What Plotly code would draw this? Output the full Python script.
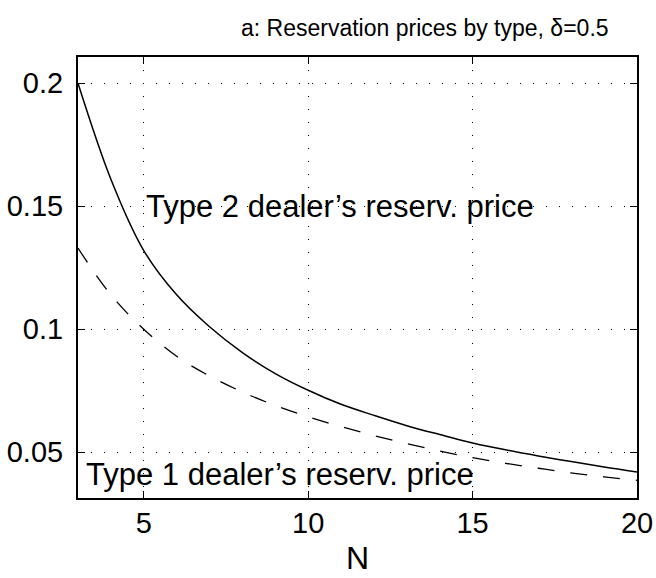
import plotly.graph_objects as go

N = list(range(3, 21))
type2_price = [0.200, 0.161, 0.132, 0.114, 0.101, 0.0905, 0.082, 0.0752, 0.0695,
               0.065, 0.0608, 0.0572, 0.0538, 0.051, 0.0485, 0.0462, 0.044, 0.042]
type1_price = [0.133, 0.114, 0.100, 0.089, 0.081, 0.0745, 0.069, 0.0644, 0.0604,
               0.0568, 0.0535, 0.0505, 0.0478, 0.0455, 0.0435, 0.0416, 0.040, 0.0386]

x_ticks = [5, 10, 15, 20]
y_ticks = [0.05, 0.1, 0.15, 0.2]
y_tick_labels = ["0.05", "0.1", "0.15", "0.2"]

FONT = "Liberation Sans, Arial, sans-serif"

fig = go.Figure()
fig.add_trace(go.Scatter(x=N, y=type2_price, mode="lines", line=dict(color="black", width=1.5, shape="spline"),
                         showlegend=False, hoverinfo="skip"))
fig.add_trace(go.Scatter(x=N, y=type1_price, mode="lines",
                         line=dict(color="black", width=1.3, dash="17px,16px", shape="spline"),
                         showlegend=False, hoverinfo="skip"))

axis_common = dict(showline=True, linecolor="black", linewidth=2, mirror="ticks",
                   ticks="inside", ticklen=7, tickcolor="black", tickwidth=1,
                   showgrid=True, gridcolor="black", gridwidth=1, griddash="1px,12px",
                   zeroline=False, automargin=False,
                   tickfont=dict(family=FONT, size=29, color="black"))

fig.update_xaxes(range=[3, 20], tickvals=x_ticks, ticklabelstandoff=-2, **axis_common)
fig.update_yaxes(range=[0.0314, 0.2107], tickvals=y_ticks, ticktext=y_tick_labels,
                 ticklabelstandoff=7, **axis_common)

fig.add_annotation(x=5.02, y=0.15, text="Type 2 dealer’s reserv. price", showarrow=False,
                   xanchor="left", yanchor="middle", font=dict(family=FONT, size=31, color="black"))
fig.add_annotation(x=3.18, y=0.0410, text="Type 1 dealer’s reserv. price", showarrow=False,
                   xanchor="left", yanchor="middle", font=dict(family=FONT, size=31, color="black"))
fig.add_annotation(xref="paper", yref="paper", x=0.5, y=-0.1814, text="N", showarrow=False,
                   xanchor="center", yanchor="bottom", font=dict(family=FONT, size=32, color="black"))
fig.add_annotation(xref="paper", yref="paper", x=0.621, y=1.066, text="a: Reservation prices by type, δ=0.5",
                   showarrow=False, xanchor="center", yanchor="middle",
                   font=dict(family=FONT, size=23, color="black"))

fig.update_layout(width=656, height=578, margin=dict(l=78, r=19, t=57, b=80, autoexpand=False),
                  plot_bgcolor="white", paper_bgcolor="white")
fig.write_html("out.html", config={"displayModeBar": False},
               post_script="document.body.style.margin='0';")
